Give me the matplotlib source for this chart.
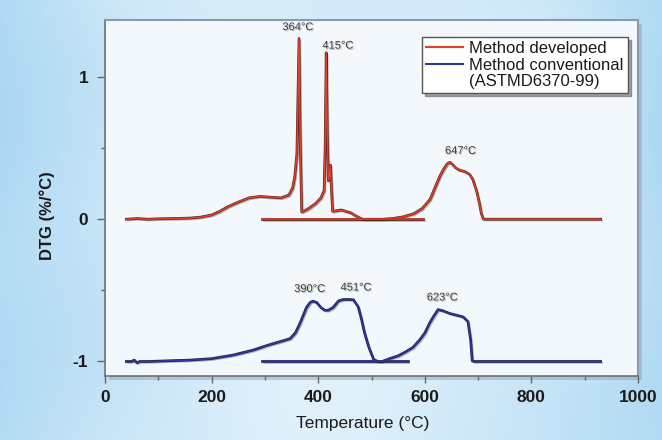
import numpy as np
import matplotlib
matplotlib.use("Agg")
import matplotlib.pyplot as plt
from matplotlib import patheffects as pe
from matplotlib.lines import Line2D
from matplotlib.patches import Rectangle

plt.rcParams["font.family"] = ["Liberation Sans", "DejaVu Sans"]

# method developed (red) - main run
red_T = [40, 60, 80, 100, 130, 160, 180, 200, 215, 230,
         250, 270, 290, 310, 330, 345, 352, 356, 360, 364,
         366, 369, 380, 395, 405, 411, 413, 415, 417, 419,
         421, 423, 425, 427, 435, 443, 452, 461, 472, 483,
         500, 520, 540, 560, 580, 595, 610, 620, 628, 635,
         642, 647, 652, 658, 665, 675, 684, 690, 697, 702,
         706, 710, 750, 800, 850, 900, 930]
red_v = [0, 0.005, 0, 0.003, 0.005, 0.008, 0.015, 0.03, 0.055, 0.087,
         0.12, 0.15, 0.16, 0.155, 0.15, 0.17, 0.22, 0.3, 0.46, 1.27,
         0.6, 0.05, 0.07, 0.11, 0.15, 0.2, 0.5, 1.17, 0.6, 0.27,
         0.3, 0.38, 0.2, 0.055, 0.06, 0.065, 0.055, 0.045, 0.02, 0.0,
         0, 0, 0.005, 0.017, 0.04, 0.075, 0.14, 0.23, 0.3, 0.35,
         0.39, 0.40, 0.385, 0.36, 0.345, 0.335, 0.315, 0.28, 0.2, 0.12,
         0.04, 0, 0, 0, 0, 0, 0]
red_base_T = [295, 597]
red_base_v = [0, 0]

# method conventional (blue)
blue_T = [40, 50, 55, 60, 65, 80, 120, 160, 200, 240,
          278, 306, 347, 357, 366, 378, 385, 390, 397, 405,
          412, 419, 428, 438, 446, 453, 466, 475, 481, 487,
          495, 504, 512, 520, 534, 550, 565, 578, 590, 600,
          609, 617, 625, 635, 647, 660, 672, 681, 686, 689,
          692, 750, 800, 850, 900, 930]
blue_v = [-1, -1, -0.99, -1.01, -1, -1, -0.995, -0.99, -0.98, -0.955,
          -0.92, -0.885, -0.84, -0.8, -0.73, -0.62, -0.585, -0.576, -0.585, -0.62,
          -0.64, -0.64, -0.62, -0.575, -0.565, -0.564, -0.566, -0.616, -0.7, -0.8,
          -0.9, -0.986, -1.0, -1.0, -0.98, -0.96, -0.93, -0.9, -0.85, -0.8,
          -0.73, -0.68, -0.635, -0.645, -0.663, -0.675, -0.687, -0.72, -0.85, -0.996,
          -1, -1, -1, -1, -1, -1]
blue_base_T = [295, 568]
blue_base_v = [-1, -1]

peak_labels = ["364°C", "415°C", "647°C", "390°C", "451°C", "623°C"]
peak_T = [362, 437, 667, 384, 471, 633]
peak_v = [1.35, 1.22, 0.48, -0.49, -0.48, -0.55]

x_ticks = [0, 200, 400, 600, 800, 1000]
y_ticks = [-1, 0, 1]

fig = plt.figure(figsize=(6.62, 4.40), dpi=100)
fig.patch.set_facecolor("#cfe7f6")

# sky-like background
bg = fig.add_axes([0, 0, 1, 1], zorder=-10)
yy, xx = np.mgrid[0:1:220j, 0:1:331j]
w = np.clip(np.abs(xx - 0.5) * 2, 0, 1) ** 2 * 0.7
w += 0.18 * (np.sin(xx * 9 + yy * 4) * np.sin(yy * 7 - xx * 3) + 1) / 2
w = np.clip(w, 0, 1)[..., None]
light = np.array([0.88, 0.945, 0.985])
deep = np.array([0.64, 0.83, 0.945])
bg.imshow(light * (1 - w) + deep * w, aspect="auto", extent=(0, 1, 0, 1))
bg.axis("off")

x0, y0, wd, ht = 105 / 662, 1 - 375.7 / 440, 533 / 662, 355.7 / 440
fig.add_artist(Rectangle((x0 + 4 / 662, y0 - 4 / 440), wd, ht, transform=fig.transFigure,
                         facecolor="#7f93a3", alpha=0.4, edgecolor="none", zorder=-5))
ax = fig.add_axes([x0, y0, wd, ht], facecolor="#f3f8fc")

line_fx = [pe.SimpleLineShadow(offset=(1.0, -1.0), shadow_color="k", alpha=0.3),
           pe.Stroke(linewidth=1.9, foreground="#5a2018"), pe.Normal()]
blue_fx = [pe.SimpleLineShadow(offset=(1.0, -1.0), shadow_color="k", alpha=0.3),
           pe.Stroke(linewidth=1.9, foreground="#1c1c50"), pe.Normal()]

ax.plot(red_T, red_v, color="#e0402c", lw=1.1, path_effects=line_fx)
ax.plot(red_base_T, red_base_v, color="#e0402c", lw=1.1, path_effects=line_fx)
ax.plot(blue_T, blue_v, color="#33359c", lw=1.1, path_effects=blue_fx)
ax.plot(blue_base_T, blue_base_v, color="#33359c", lw=1.1, path_effects=blue_fx)

txt_fx = [pe.withSimplePatchShadow(offset=(0.8, -0.8), shadow_rgbFace="#888888", alpha=0.5)]
for lab, t, v in zip(peak_labels, peak_T, peak_v):
    ax.text(t, v, lab, ha="center", va="center", fontsize=8, color="#3c3c3c",
            path_effects=txt_fx)

ax.set_xlim(0, 1000)
ax.set_ylim(-1.10, 1.40)
ax.set_xticks(x_ticks)
ax.set_xticks([100, 300, 500, 700, 900], minor=True)
ax.set_yticks(y_ticks)
ax.set_yticks([-0.5, 0.5], minor=True)
ax.set_yticklabels([str(v) for v in y_ticks])
ax.tick_params(axis="x", which="major", direction="out", length=5, width=1, color="#666666",
               pad=5, labelsize=12.5, labelcolor="#1a1a1a")
ax.tick_params(axis="y", which="major", direction="out", length=6, width=1, color="#666666",
               pad=6, labelsize=12.5, labelcolor="#1a1a1a")
ax.tick_params(which="minor", direction="out", length=3, width=1, color="#666666")
for lab in ax.get_xticklabels() + ax.get_yticklabels():
    lab.set_fontweight("bold")

for s in ["left", "bottom"]:
    ax.spines[s].set_color("#707070")
    ax.spines[s].set_linewidth(1.2)
for s in ["top", "right"]:
    ax.spines[s].set_color("#8a9aa8")
    ax.spines[s].set_linewidth(1.5)

ax.set_xlabel("Temperature (°C)", fontsize=12.5, color="#1a1a1a")
ax.xaxis.set_label_coords(0.484, -0.133)
ax.xaxis.label.set_va("center")
ax.set_ylabel("DTG (%/°C)", fontsize=12, fontweight="bold", color="#1a1a1a")
ax.yaxis.set_label_coords(-0.109, 0.45)
ax.yaxis.label.set_va("center")

handles = [Line2D([], [], color="#e0402c", lw=1.5),
           Line2D([], [], color="#33359c", lw=1.5),
           Line2D([], [], color="none")]
labels = ["Method developed", "Method conventional", "(ASTMD6370-99)"]
leg = ax.legend(handles, labels, loc="upper right", bbox_to_anchor=(0.981, 0.952),
                borderaxespad=0, fontsize=12, frameon=True, fancybox=False, shadow=True,
                handlelength=2.2, handletextpad=0.4, labelspacing=0.08, borderpad=0.25)
leg.get_frame().set_edgecolor("#555555")
leg.get_frame().set_facecolor("white")
leg.get_frame().set_alpha(1)
for t in leg.get_texts():
    t.set_color("#1a1a1a")

fig.savefig("out.png", dpi=100, facecolor=fig.get_facecolor())
